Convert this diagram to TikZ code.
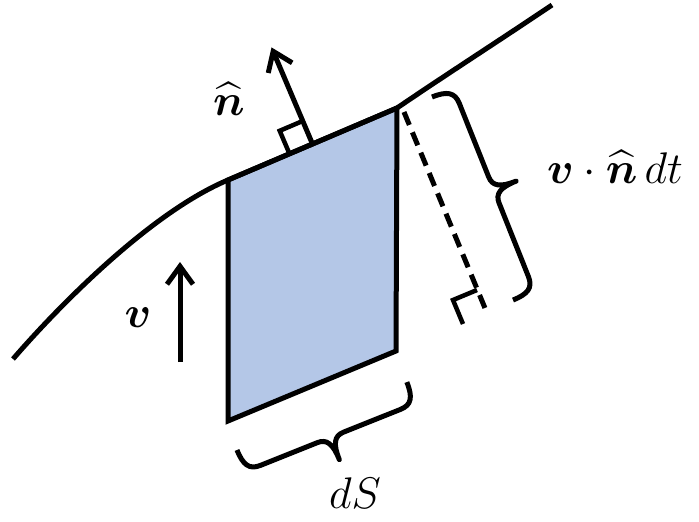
\documentclass[tikz,border=0pt]{standalone}
\usepackage{amsmath}
\usepackage{bm}
\usetikzlibrary{arrows.meta,calc}
\definecolor{patch}{RGB}{180,199,231}
\tikzset{
  thick line/.style={line width=5pt},
  vecarrow/.style={line width=5pt,-{Straight Barb[length=18pt,width=26pt]}},
  mathlabel/.style={font=\Huge,scale=1.78,inner sep=0pt,anchor=base},
  pics/curlybrace/.style={code={
    \draw[line width=5pt,line cap=butt,line join=round]
      (0,0) .. controls (0,16) and (4,23) .. (16,23)
      -- ({#1/2-14},23) .. controls ({#1/2-4},23) and ({#1/2},30) .. ({#1/2},47)
      .. controls ({#1/2},30) and ({#1/2+4},23) .. ({#1/2+14},23)
      -- ({#1-16},23) .. controls ({#1-4},23) and (#1,16) .. (#1,0);
  }},
}
\begin{document}
\begin{tikzpicture}[x=1pt,y=-1pt]
\useasboundingbox (0,0) rectangle (699,522);
% corners of the surface element
\coordinate (A) at (228,180);
\coordinate (B) at (397,108);
\coordinate (C) at (396,351);
\coordinate (D) at (228,421);
\coordinate (S0) at (13,359);
\coordinate (S1) at (552,5);
% parallelogram
\filldraw[fill=patch,thick line,line join=miter] (A) -- (B) -- (C) -- (D) -- cycle;
% surface curve
\draw[thick line,line cap=butt] (S0) .. controls (65,299) and (154,211) .. (A) -- (B) .. controls (447,74) and (500,40) .. (S1);
% normal vector
\coordinate (M) at (312.5,144);
\coordinate (Ntip) at (271.5,47.4);
\draw[vecarrow] (M) -- (Ntip);
\coordinate (R1) at (289.5,153.8);
\coordinate (R2) at (279.7,130.8);
\coordinate (R3) at (302.7,121);
\draw[line width=4.5pt,line join=miter] (R1) -- (R2) -- (R3);
\node[mathlabel] (nlab) at (229,115) {$\widehat{\bm{n}}$};
% velocity
\coordinate (V0) at (180,362);
\coordinate (V1) at (180,262);
\draw[vecarrow] (V0) -- (V1);
\node[mathlabel] (vlab) at (138,327) {$\bm{v}$};
% dashed height
\coordinate (H0) at (404,112);
\coordinate (H1) at (487,313);
\draw[thick line,dash pattern=on 14pt off 8pt] (H0) -- (H1);
\coordinate (Q) at (453,300);
\coordinate (Q1) at (477,290);
\coordinate (Q2) at (463,324);
\draw[line width=4.5pt,line join=miter] (Q1) -- (Q) -- (Q2);
% braces
\coordinate (BR0) at (432,97);
\coordinate (BB0) at (237,450);
\pic[shift={(BR0)},x={(0.3706pt,-0.9287pt)},y={(0.9287pt,0.3706pt)}] {curlybrace=218.6};
\pic[shift={(BB0)},x={(0.928pt,0.371pt)},y={(0.371pt,-0.928pt)}] {curlybrace=183};
\node[mathlabel] (hlab) at (615,183) {$\bm{v}\cdot\widehat{\bm{n}}\,dt$};
\node[mathlabel] (slab) at (355,508) {$dS$};
\end{tikzpicture}
\end{document}
